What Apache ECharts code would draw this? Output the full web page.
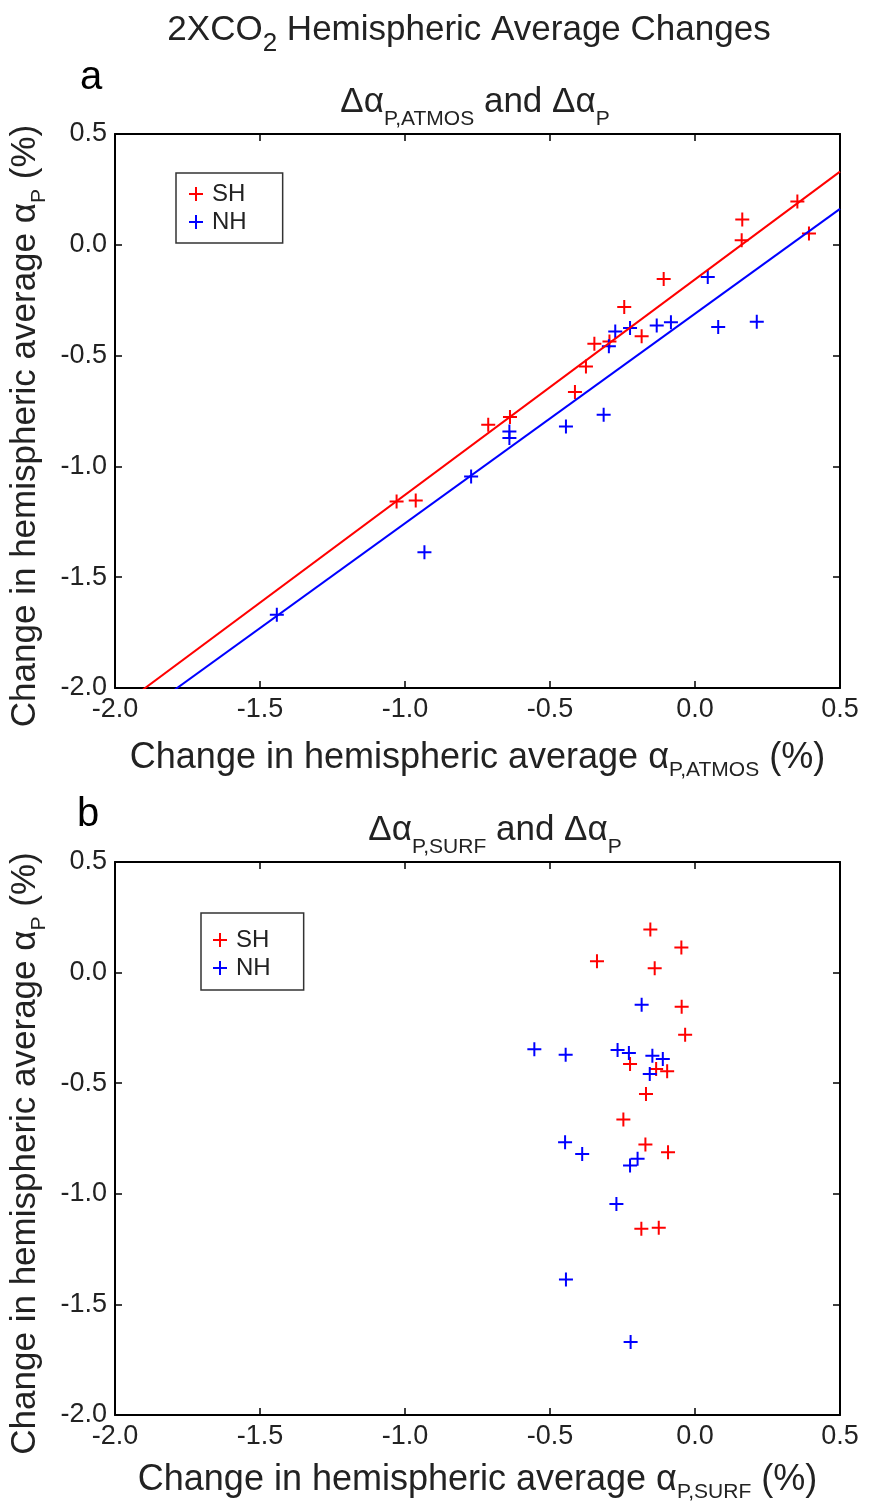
<!DOCTYPE html>
<html>
<head>
<meta charset="utf-8">
<script src="https://cdn.jsdelivr.net/npm/echarts@6/dist/echarts.min.js"></script>
<style>
  html, body { margin: 0; background: #fff; }
  #chart { width: 871px; height: 1503px; }
</style>
</head>
<body>
<div id="chart"></div>
<script>
// Values. Y (change in alpha_P) is shared by both panels.
const shY     = [-0.812, -0.777, -0.664, -0.549, -0.446, -0.436, -0.281, -0.413, -0.154, 0.114, 0.020, 0.195, 0.051, -1.158, -1.154]
const shAtmos = [-0.713, -0.638, -0.414, -0.376, -0.347, -0.295, -0.244, -0.184, -0.108, 0.163, 0.161, 0.353, 0.393, -1.029, -0.963]
const shSurf  = [-0.093, -0.171, -0.247, -0.169, -0.096, -0.134, -0.034, -0.224, -0.046, -0.047, -0.139, -0.154, -0.338, -0.185, -0.125]

const nhY     = [-0.145, -0.347, -0.350, -0.364, -0.371, -0.376, -0.391, -0.458, -0.767, -0.820, -0.842, -0.872, -1.046, -1.387, -1.670]
const nhAtmos = [0.044, 0.213, -0.083, -0.132, 0.080, -0.224, -0.275, -0.297, -0.315, -0.445, -0.640, -0.640, -0.772, -0.933, -1.442]
const nhSurf  = [-0.184, -0.554, -0.267, -0.228, -0.446, -0.147, -0.111, -0.156, -0.448, -0.389, -0.198, -0.224, -0.271, -0.445, -0.222]

const axisMin = -2.0
const axisMax = 0.5
const axisStep = 0.5

const FONT = "'Liberation Sans', Arial, Helvetica, sans-serif"
const TXT = '#222'
const RED = '#ff0000'
const BLUE = '#0000ff'
const PLUS = 'path://M-7,-1L-1,-1L-1,-7L1,-7L1,-1L7,-1L7,1L1,1L1,7L-1,7L-1,1L-7,1Z'

function zip (xs, ys) {
  return xs.map((x, i) => [x, ys[i]])
}

// least squares fit, drawn across the whole x range (grid clips it)
function fitLine (xs, ys) {
  const n = xs.length
  const mx = xs.reduce((a, b) => a + b, 0) / n
  const my = ys.reduce((a, b) => a + b, 0) / n
  let sxy = 0
  let sxx = 0
  for (let i = 0; i < n; i++) {
    sxy += (xs[i] - mx) * (ys[i] - my)
    sxx += (xs[i] - mx) * (xs[i] - mx)
  }
  const slope = sxy / sxx
  const icept = my - slope * mx
  return [axisMin - 0.5, axisMax].map(x => [x, icept + slope * x])
}

// rich styles: t = normal text, s = subscript pushed down by its top padding
function richPair (big, small, lh, drop) {
  return {
    t: { fontFamily: FONT, fontSize: big, fontWeight: 'normal', color: TXT, lineHeight: lh },
    s: { fontFamily: FONT, fontSize: small, fontWeight: 'normal', color: TXT, lineHeight: lh, padding: [drop, 0, 0, 0] }
  }
}

const xNameRich = richPair(36, 21, 40, 25)
const yNameRich = richPair(35, 21, 40, 27)

function xAxes (grid, nameText, gap) {
  return [{
    gridIndex: grid,
    type: 'value',
    position: 'bottom',
    min: axisMin,
    max: axisMax,
    interval: axisStep,
    name: nameText,
    nameLocation: 'middle',
    nameGap: gap,
    nameTextStyle: { rich: xNameRich },
    axisLine: { show: true, onZero: false, lineStyle: { color: '#000', width: 2 } },
    axisTick: { show: true, inside: true, length: 7, lineStyle: { color: '#000', width: 1.5 } },
    axisLabel: { fontFamily: FONT, fontSize: 27, color: TXT, margin: 8, formatter: v => v.toFixed(1) },
    splitLine: { show: false }
  }, {
    gridIndex: grid,
    type: 'value',
    position: 'top',
    min: axisMin,
    max: axisMax,
    interval: axisStep,
    axisLine: { show: true, onZero: false, lineStyle: { color: '#000', width: 2 } },
    axisTick: { show: true, inside: true, length: 7, lineStyle: { color: '#000', width: 1.5 } },
    axisLabel: { show: false },
    splitLine: { show: false }
  }]
}

function yAxes (grid, nameText) {
  return [{
    gridIndex: grid,
    type: 'value',
    position: 'left',
    min: axisMin,
    max: axisMax,
    interval: axisStep,
    name: nameText,
    nameLocation: 'middle',
    nameRotate: 90,
    nameGap: 52,
    nameTextStyle: { rich: yNameRich, padding: [0, 30, 0, 0] },
    axisLine: { show: true, onZero: false, lineStyle: { color: '#000', width: 2 } },
    axisTick: { show: true, inside: true, length: 7, lineStyle: { color: '#000', width: 1.5 } },
    axisLabel: { fontFamily: FONT, fontSize: 27, color: TXT, margin: 8, formatter: v => v.toFixed(1) },
    splitLine: { show: false }
  }, {
    gridIndex: grid,
    type: 'value',
    position: 'right',
    min: axisMin,
    max: axisMax,
    interval: axisStep,
    axisLine: { show: true, onZero: false, lineStyle: { color: '#000', width: 2 } },
    axisTick: { show: true, inside: true, length: 7, lineStyle: { color: '#000', width: 1.5 } },
    axisLabel: { show: false },
    splitLine: { show: false }
  }]
}

function legendBox (left, top, padding) {
  return {
    orient: 'vertical',
    left: left,
    top: top,
    padding: padding,
    itemGap: 4,
    itemWidth: 14,
    itemHeight: 14,
    borderColor: '#333',
    borderWidth: 1.5,
    backgroundColor: '#fff',
    textStyle: { fontFamily: FONT, fontSize: 24, color: TXT, lineHeight: 24, padding: [0, 0, 0, 4] },
    data: [{ name: 'SH', icon: PLUS }, { name: 'NH', icon: PLUS }]
  }
}

function scatter (name, color, xi, data) {
  return {
    name: name,
    type: 'scatter',
    xAxisIndex: xi,
    yAxisIndex: xi,
    symbol: PLUS,
    symbolSize: 14,
    itemStyle: { color: color, opacity: 1 },
    emphasis: { disabled: true },
    data: data
  }
}

function fit (name, color, data) {
  return {
    name: name,
    type: 'line',
    xAxisIndex: 0,
    yAxisIndex: 0,
    symbol: 'none',
    clip: true,
    silent: true,
    lineStyle: { color: color, width: 2 },
    data: data
  }
}

const chart = echarts.init(document.getElementById('chart'), null, { renderer: 'canvas', width: 871, height: 1503 })

const titleRich = richPair(35, 26, 40, 28)
const panelRich = richPair(35, 21, 40, 34)

const option = {
  animation: false,
  backgroundColor: '#fff',
  title: [
    { text: '{t|2XCO}{s|2}{t| Hemispheric Average Changes}', left: 469, top: 10, textAlign: 'center', padding: 0, textStyle: { fontWeight: 'normal', rich: titleRich } },
    { text: 'a', left: 80, top: 58, padding: 0, textStyle: { fontFamily: FONT, fontSize: 40, fontWeight: 'normal', color: '#000' } },
    { text: '{t|Δα}{s|P,ATMOS}{t| and Δα}{s|P}', left: 475, top: 82, textAlign: 'center', padding: 0, textStyle: { fontWeight: 'normal', rich: panelRich } },
    { text: 'b', left: 77, top: 795, padding: 0, textStyle: { fontFamily: FONT, fontSize: 40, fontWeight: 'normal', color: '#000' } },
    { text: '{t|Δα}{s|P,SURF}{t| and Δα}{s|P}', left: 495, top: 810, textAlign: 'center', padding: 0, textStyle: { fontWeight: 'normal', rich: panelRich } }
  ],
  grid: [
    { left: 115, top: 134, width: 725, height: 554, outerBoundsMode: 'none' },
    { left: 115, top: 862, width: 725, height: 553, outerBoundsMode: 'none' }
  ],
  legend: [
    legendBox(176, 173, [9, 36, 9, 13]),
    legendBox(201, 913, [15, 33, 10, 12])
  ],
  xAxis: [
    ...xAxes(0, '{t|Change in hemispheric average α}{s|P,ATMOS}{t| (%)}', 50),
    ...xAxes(1, '{t|Change in hemispheric average α}{s|P,SURF}{t| (%)}', 45)
  ],
  yAxis: [
    ...yAxes(0, '{t|Change in hemispheric average α}{s|P}{t| (%)}'),
    ...yAxes(1, '{t|Change in hemispheric average α}{s|P}{t| (%)}')
  ],
  series: [
    scatter('SH', RED, 0, zip(shAtmos, shY)),
    scatter('NH', BLUE, 0, zip(nhAtmos, nhY)),
    fit('SH fit', RED, fitLine(shAtmos, shY)),
    fit('NH fit', BLUE, fitLine(nhAtmos, nhY)),
    scatter('SH', RED, 2, zip(shSurf, shY)),
    scatter('NH', BLUE, 2, zip(nhSurf, nhY))
  ]
}

chart.setOption(option)
</script>
</body>
</html>
